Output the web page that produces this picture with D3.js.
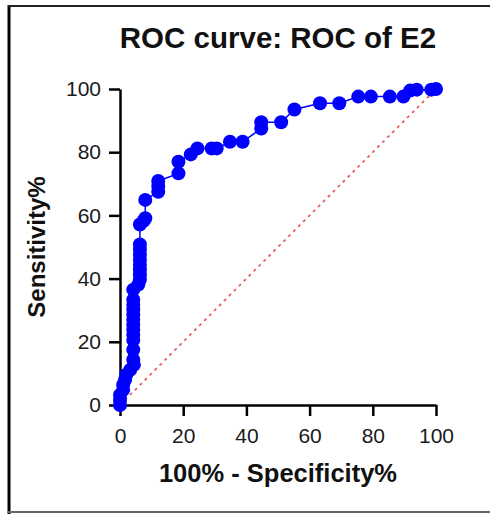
<!DOCTYPE html>
<html lang="en">
<head>
    <meta charset="UTF-8">
    <title>ROC curve: ROC of E2</title>
    <script src="https://d3js.org/d3.v7.min.js"></script>
    <style>
        body { margin: 0; background: #fff; }
        text { font-family: Arial, "Liberation Sans", sans-serif; }
    </style>
</head>
<body>
    <svg width="490" height="514"></svg>
    <script>
        // 100% - Specificity% (x) and Sensitivity% (y)
        const specComp = [0, 0, 0, 1, 1, 1.6, 2, 3.2, 4.4, 4.2, 4.2, 4.2, 4.2, 4.2, 4.2, 4.2, 4.2, 4.2, 4.2, 4.2, 4.2,
            5.8, 6.3, 6.3, 6.3, 6.3, 6.3, 6.3, 6.3, 6.3, 6.3, 7.4, 8, 8,
            12.1, 12.1, 12.1, 18.5, 18.5, 22.4, 24.5, 29, 30.6, 34.8, 38.8, 44.7, 44.7, 51, 55.2,
            63.3, 69.4, 75.4, 79.4, 85.4, 89.7, 91.8, 93.9, 98.5, 100];
        const sensitivity = [0, 1.6, 3.2, 4.8, 6.4, 8, 9.6, 11.1, 12.7, 14.3, 17.5, 20.6, 22.2, 23.8, 25.4, 27, 28.6, 30.2, 31.7, 33.3, 36.5,
            38.1, 39.7, 41.3, 42.9, 44.4, 46, 47.6, 49.2, 50.8, 57.1, 58.2, 59.1, 64.9,
            67.5, 69.3, 70.9, 73.3, 77, 79.3, 81.2, 81.2, 81.2, 83.3, 83.3, 87.5, 89.5, 89.5, 93.5,
            95.5, 95.5, 97.6, 97.6, 97.6, 97.6, 99.5, 99.8, 99.8, 100];
        const ticks = [0, 20, 40, 60, 80, 100];

        const data = specComp.map((x, i) => ({ x: x, y: sensitivity[i] }));

        const svg = d3.select('svg');

        // frame
        svg.append('line').attr('x1', 9).attr('y1', 5).attr('x2', 9).attr('y2', 514)
            .attr('stroke', '#000').attr('stroke-width', 3);
        svg.append('line').attr('x1', 8).attr('y1', 6).attr('x2', 490).attr('y2', 6)
            .attr('stroke', '#222').attr('stroke-width', 2);
        svg.append('line').attr('x1', 8).attr('y1', 512).attr('x2', 490).attr('y2', 512)
            .attr('stroke', '#666').attr('stroke-width', 2);

        const plotLeft = 120, plotRight = 436, plotTop = 89, plotBottom = 405;

        const x = d3.scaleLinear().domain([0, 100]).range([plotLeft, plotRight]);
        const y = d3.scaleLinear().domain([0, 100]).range([plotBottom, plotTop]);

        // reference diagonal
        svg.append('line')
            .attr('x1', x(0)).attr('y1', y(0))
            .attr('x2', x(100)).attr('y2', y(100))
            .attr('stroke', '#e8605f')
            .attr('stroke-width', 1.8)
            .attr('stroke-dasharray', '3,4');

        const xAxis = svg.append('g')
            .attr('transform', `translate(0,${plotBottom})`)
            .call(d3.axisBottom(x).tickValues(ticks).tickSize(11).tickSizeOuter(0).tickPadding(12));

        const yAxis = svg.append('g')
            .attr('transform', `translate(${plotLeft},0)`)
            .call(d3.axisLeft(y).tickValues(ticks).tickSize(11).tickSizeOuter(0).tickPadding(8));

        [xAxis, yAxis].forEach(g => {
            g.select('.domain').attr('stroke', '#000').attr('stroke-width', 2.5);
            g.selectAll('.tick line').attr('stroke', '#000').attr('stroke-width', 2.5);
            g.selectAll('.tick text')
                .attr('fill', '#1a1a1a')
                .style('font-size', '21px')
                .style('font-family', 'Arial, "Liberation Sans", sans-serif');
        });

        // curve
        svg.append('path')
            .datum(data)
            .attr('fill', 'none')
            .attr('stroke', '#0000ff')
            .attr('stroke-width', 1.5)
            .attr('d', d3.line().x(d => x(d.x)).y(d => y(d.y)));

        svg.selectAll('.pt')
            .data(data)
            .enter()
            .append('circle')
            .attr('class', 'pt')
            .attr('cx', d => x(d.x))
            .attr('cy', d => y(d.y))
            .attr('r', 7)
            .attr('fill', '#0000ff');

        // titles
        svg.append('text')
            .attr('x', (plotLeft + plotRight) / 2)
            .attr('y', 48)
            .attr('text-anchor', 'middle')
            .attr('fill', '#111')
            .style('font-size', '29.5px')
            .style('font-weight', 'bold')
            .text('ROC curve: ROC of E2');

        svg.append('text')
            .attr('x', (plotLeft + plotRight) / 2)
            .attr('y', 482)
            .attr('text-anchor', 'middle')
            .attr('fill', '#111')
            .style('font-size', '25.5px')
            .style('font-weight', 'bold')
            .text('100% - Specificity%');

        svg.append('text')
            .attr('transform', `translate(45,${(plotTop + plotBottom) / 2}) rotate(-90)`)
            .attr('text-anchor', 'middle')
            .attr('fill', '#111')
            .style('font-size', '24px')
            .style('font-weight', 'bold')
            .text('Sensitivity%');
    </script>
</body>
</html>
